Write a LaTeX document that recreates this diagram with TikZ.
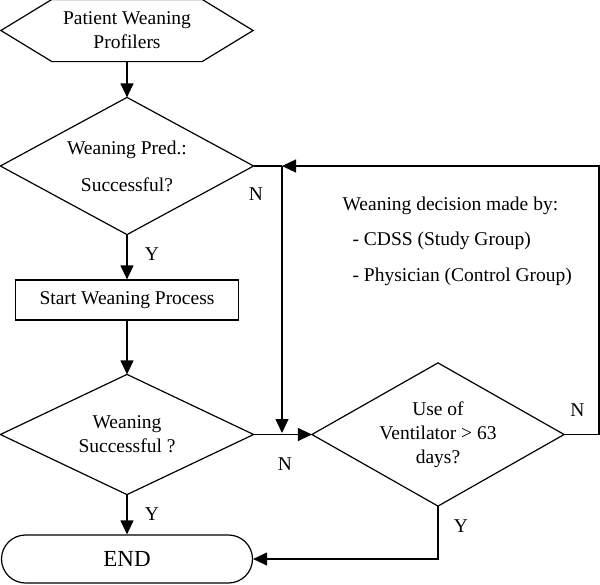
\documentclass[tikz,border=0pt]{standalone}
\usepackage{fontspec}
\setmainfont{Liberation Serif}
\usetikzlibrary{shapes.geometric,shapes.misc,arrows.meta,calc}
\begin{document}
\begin{tikzpicture}[x=1pt,y=-1pt,line width=1.2pt,
  txt/.style={font=\fontsize{19.5}{24}\selectfont,align=center},
  dec/.style={txt,inner sep=0pt},
  arr/.style={-{Triangle[length=14pt,width=13pt]}},
  lbl/.style={font=\fontsize{19.5}{24}\selectfont,inner sep=0pt}]
\useasboundingbox (0,0) rectangle (600,584);

% nodes
\node[txt,minimum width=251pt,minimum height=61pt,inner sep=0pt] (hex) at (127,30.5) {Patient Weaning\\Profilers};
\draw (hex.west) -- ([xshift=51pt]hex.north west) -- ([xshift=-51pt]hex.north east)
  -- (hex.east) -- ([xshift=-51pt]hex.south east) -- ([xshift=51pt]hex.south west) -- cycle;

\node[dec,minimum width=252pt,minimum height=136pt] (d1) at (127,166) {Weaning Pred.:\\[13pt]Successful?};
\node[draw,txt,minimum width=223pt,minimum height=40pt,inner sep=0pt] (start) at (127,300) {Start Weaning Process};
\node[dec,minimum width=252pt,minimum height=119pt] (d2) at (127,434.5) {Weaning\\Successful ?};
\node[rounded rectangle,draw,minimum width=251pt,minimum height=48pt,inner sep=0pt,
  font=\fontsize{23}{26}\selectfont] (end) at (127,559) {END};
\node[dec,minimum width=251pt,minimum height=142pt] (d3) at (438,434.5) {Use of\\Ventilator > 63\\days?};
\foreach \d in {d1,d2,d3}
  \draw (\d.north) -- (\d.east) -- (\d.south) -- (\d.west) -- cycle;

\node[lbl,anchor=base west] (note1) at (342,210) {Weaning decision made by:};
\node[lbl,anchor=base west] (note2) at (352,245.5) {- CDSS (Study Group)};
\node[lbl,anchor=base west] (note3) at (352,281) {- Physician (Control Group)};

% labels
\node[lbl] (n1) at (256,194) {N};
\node[lbl] (y1) at (152,254) {Y};
\node[lbl] (n2) at (285,464) {N};
\node[lbl] (y2) at (152,514) {Y};
\node[lbl] (n3) at (577.5,410) {N};
\node[lbl] (y3) at (461,526) {Y};

% junctions
\coordinate (j1) at (282,166);
\coordinate (j2) at (282,433);
\coordinate (r1) at (599,434.5);
\coordinate (r2) at (599,166);

% connectors
\draw[arr] (hex.south) -- (d1.north);
\draw[arr] (d1.south) -- (start.north);
\draw[arr] (start.south) -- (d2.north);
\draw[arr] (d2.south) -- (end.north);
\draw[arr] (d2.east) -- (d3.west);
\draw (d1.east) -- (j1);
\draw[arr] (j1) -- (j2);
\draw[arr] (d3.east) -- (r1) -- (r2) -- (j1);
\draw[arr] (d3.south) -- (d3.south |- end.east) -- (end.east);
\end{tikzpicture}
\end{document}
